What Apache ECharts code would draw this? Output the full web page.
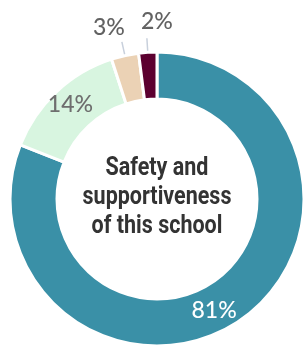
<!DOCTYPE html>
<html><head><meta charset="utf-8">
<script src="https://cdn.jsdelivr.net/npm/echarts@6/dist/echarts.min.js"></script>
<style>html,body{margin:0;padding:0;background:#fff}#c{width:304px;height:349px}</style>
</head><body><div id="c"></div>
<script>
var categories = ['Safe and supportive', 'Somewhat', 'Not really', 'Not at all'];
var values = [81, 14, 3, 2];
var colors = ['#3a90a7', '#d8f5e0', '#ebd2b5', '#5c0030'];
var labelColors = ['#ffffff', '#6e6e6e', '#626262', '#626262'];
var centerText = 'Safety and\nsupportiveness\nof this school';

var data = categories.map(function (name, i) {
  var inside = i < 2;
  return {
    name: name, value: values[i],
    itemStyle: { color: colors[i] },
    label: { position: inside ? 'inside' : 'outside', color: labelColors[i] },
    labelLine: { show: !inside }
  };
});

var CX = 157, CY = 199;
var chart = echarts.init(document.getElementById('c'), null, { renderer: 'canvas' });
chart.setOption({
  animation: false,
  graphic: [{
    type: 'text', x: CX, y: CY - 1, scaleX: 0.86,
    style: {
      text: centerText, fill: '#333333', align: 'center', verticalAlign: 'middle',
      font: 'bold 25px Roboto, sans-serif',
      lineHeight: 29
    }
  }],
  series: [{
    type: 'pie',
    center: [CX, CY],
    radius: [100, 147],
    startAngle: 90,
    clockwise: true,
    avoidLabelOverlap: false,
    itemStyle: { borderColor: '#ffffff', borderWidth: 3 },
    label: {
      formatter: '{c}%',
      fontFamily: 'Lato, "Open Sans", sans-serif',
      fontWeight: 500,
      fontSize: 23
    },
    labelLine: { length: 14, length2: 0, lineStyle: { color: '#c8d0dc', width: 1.5 } },
    labelLayout: function (p) {
      if (p.dataIndex === 0) return { dx: -14, dy: 7 };
      if (p.dataIndex === 2) return { align: 'center', verticalAlign: 'bottom', dx: -8, dy: -3 };
      if (p.dataIndex === 3) return { align: 'center', verticalAlign: 'bottom', dx: 15, dy: -5 };
      return { dy: -2 };
    },
    data: data
  }]
});
</script></body></html>
